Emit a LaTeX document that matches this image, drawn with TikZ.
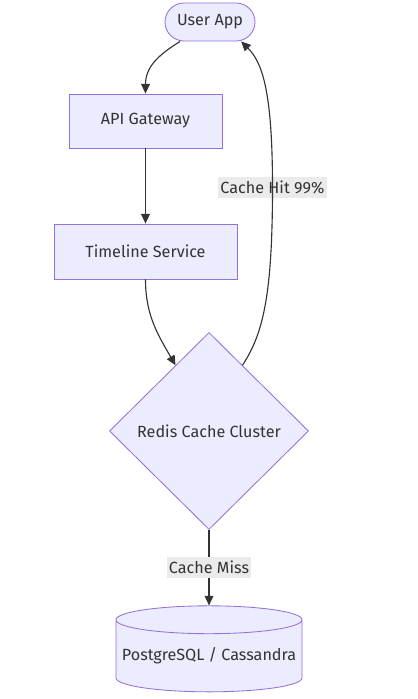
\documentclass[tikz,border=0pt]{standalone}
\usepackage{fontspec}
\setmainfont{Fira Sans}
\usetikzlibrary{shapes.geometric,arrows.meta}
\definecolor{nodefill}{HTML}{ECECFF}
\definecolor{nodeline}{HTML}{9370DB}
\definecolor{edgeline}{HTML}{333333}
\definecolor{lblfill}{HTML}{EBEBEB}
\begin{document}
\begin{tikzpicture}[x=0.025cm, y=-0.025cm,
        every node/.style={font=\fontsize{11.5}{13}\selectfont, text=edgeline},
        box/.style={draw=nodeline, fill=nodefill, line width=0.6pt, align=center, inner sep=0pt},
        arrow/.style={-{Triangle[length=0.24cm, width=0.22cm]}, draw=edgeline, line width=0.8pt},
        lbl/.style={fill=lblfill, inner xsep=1.5pt, inner ysep=3pt}
    ]
        \useasboundingbox (0,0) rectangle (418,699);

        \node[box, rounded corners=0.475cm, minimum width=2.25cm, minimum height=0.95cm] (user) at (210,22) {User App};
        \node[box, minimum width=3.825cm, minimum height=1.35cm] (api) at (145.5,121) {API Gateway};
        \node[box, minimum width=4.575cm, minimum height=1.375cm] (timeline) at (145.5,251.5) {Timeline Service};
        \node[box, diamond, aspect=1, minimum width=4.975cm, minimum height=4.925cm] (redis) at (209,431) {Redis Cache Cluster};
        \node[box, cylinder, shape border rotate=90, aspect=0.16, minimum width=4.65cm, minimum height=2.15cm] (db) at (209,656) {PostgreSQL / Cassandra};

        \node[lbl] (hit) at (272.5,187.5) {Cache Hit 99\%};

        \draw[arrow] (user.-147) .. controls (160,54) and (145.5,66) .. (api.north);
        \draw[arrow] (api) -- (timeline);
        \draw[arrow] (timeline.south) to[out=-90, in=120] (redis.117);
        \draw[arrow] (redis.63) .. controls (262,335) and (272.5,300) .. (hit.center)
            .. controls (272.5,90) and (262,62) .. (user.-32);
        \draw[arrow] (redis.south) -- node[lbl] (miss) {Cache Miss} (db.north);
    \end{tikzpicture}
\end{document}
